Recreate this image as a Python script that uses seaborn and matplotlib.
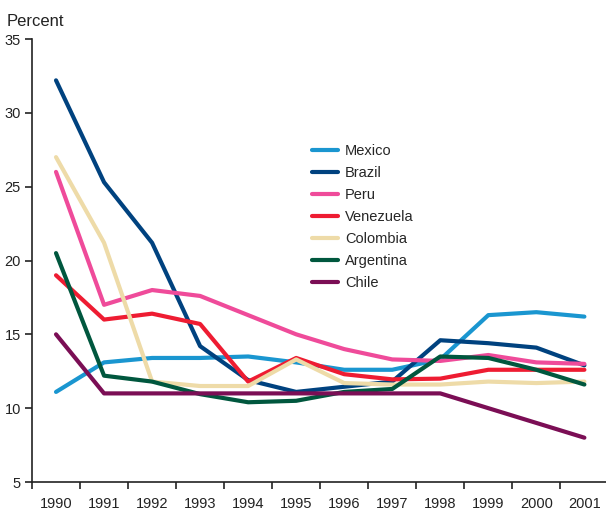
import numpy as np
import pandas as pd
import matplotlib
matplotlib.use("Agg")
import matplotlib.pyplot as plt
import seaborn as sns

years = [1990, 1991, 1992, 1993, 1994, 1995, 1996, 1997, 1998, 1999, 2000, 2001]
countries = ['Mexico', 'Brazil', 'Peru', 'Venezuela', 'Colombia', 'Argentina', 'Chile']

mexico = [11.1, 13.1, 13.4, 13.4, 13.5, 13.1, 12.6, 12.6, 13.3, 16.3, 16.5, 16.2]
brazil = [32.2, 25.3, 21.2, 14.2, 11.9, 11.1, 11.45, 11.8, 14.6, 14.4, 14.1, 12.9]
peru = [26.0, 17.0, 18.0, 17.6, 16.3, 15.0, 14.0, 13.3, 13.2, 13.6, 13.1, 13.0]
venezuela = [19.0, 16.0, 16.4, 15.7, 11.8, 13.4, 12.3, 11.95, 12.0, 12.6, 12.6, 12.6]
colombia = [27.0, 21.2, 11.8, 11.5, 11.5, 13.3, 11.7, 11.6, 11.6, 11.8, 11.7, 11.8]
argentina = [20.5, 12.2, 11.8, 10.95, 10.4, 10.5, 11.1, 11.3, 13.5, 13.4, 12.6, 11.6]
chile = [15.0, 11.0, 11.0, 11.0, 11.0, 11.0, 11.0, 11.0, 11.0, 10.0, 9.0, 8.0]

colors = ['#1a96d0', '#00427f', '#ef4b9a', '#ee1c32', '#eedba8', '#00573e', '#7b0e55']

series = [mexico, brazil, peru, venezuela, colombia, argentina, chile]
df = pd.DataFrame({
    'pos': list(range(len(years))) * len(countries),
    'Country': [c for c in countries for _ in years],
    'Percent': [v for s in series for v in s],
})

sns.set_style('white')
plt.rcParams['font.family'] = ['Liberation Sans', 'DejaVu Sans']

fig = plt.figure(figsize=(6.06, 5.11), dpi=100)
ax = fig.add_axes([32 / 606, 29 / 511, 1 - 32 / 606, (482 - 39) / 511])

sns.lineplot(data=df, x='pos', y='Percent', hue='Country', hue_order=countries,
             palette=colors, linewidth=3, ax=ax, legend=False)

ax.set_xlim(-0.5, 11.45)
ax.set_ylim(5, 35)
ax.set_yticks([5, 10, 15, 20, 25, 30, 35])
ax.set_xticks(range(len(years)))
ax.set_xticklabels([str(y) for y in years])
ax.set_xticks(np.arange(-0.5, 11, 1), minor=True)
ax.tick_params(axis='x', which='major', length=0, pad=11, labelsize=10.5, colors='#222222')
ax.tick_params(axis='x', which='minor', length=5, width=1.2, direction='out', bottom=True, color='#222222')
ax.tick_params(axis='y', length=5, width=1.2, direction='out', left=True, pad=3, labelsize=10.5, colors='#222222')
ax.set_xlabel('')
ax.set_ylabel('')
for s in ['top', 'right']:
    ax.spines[s].set_visible(False)
for s in ['left', 'bottom']:
    ax.spines[s].set_color('#222222')
    ax.spines[s].set_linewidth(1.2)

fig.text(7 / 606, 1 - 26 / 511, 'Percent', fontsize=12, color='#222222', ha='left', va='baseline')

handles = [plt.Line2D([], [], color=c, linewidth=3) for c in colors]
ax.legend(handles, countries, loc='upper left', frameon=False, fontsize=10.5,
          bbox_to_anchor=(312 / 606, 1 - 144 / 511), bbox_transform=fig.transFigure,
          borderpad=0, borderaxespad=0, handlelength=1.8, handletextpad=0.45,
          labelspacing=0.55)

fig.savefig('out.png', dpi=100)
